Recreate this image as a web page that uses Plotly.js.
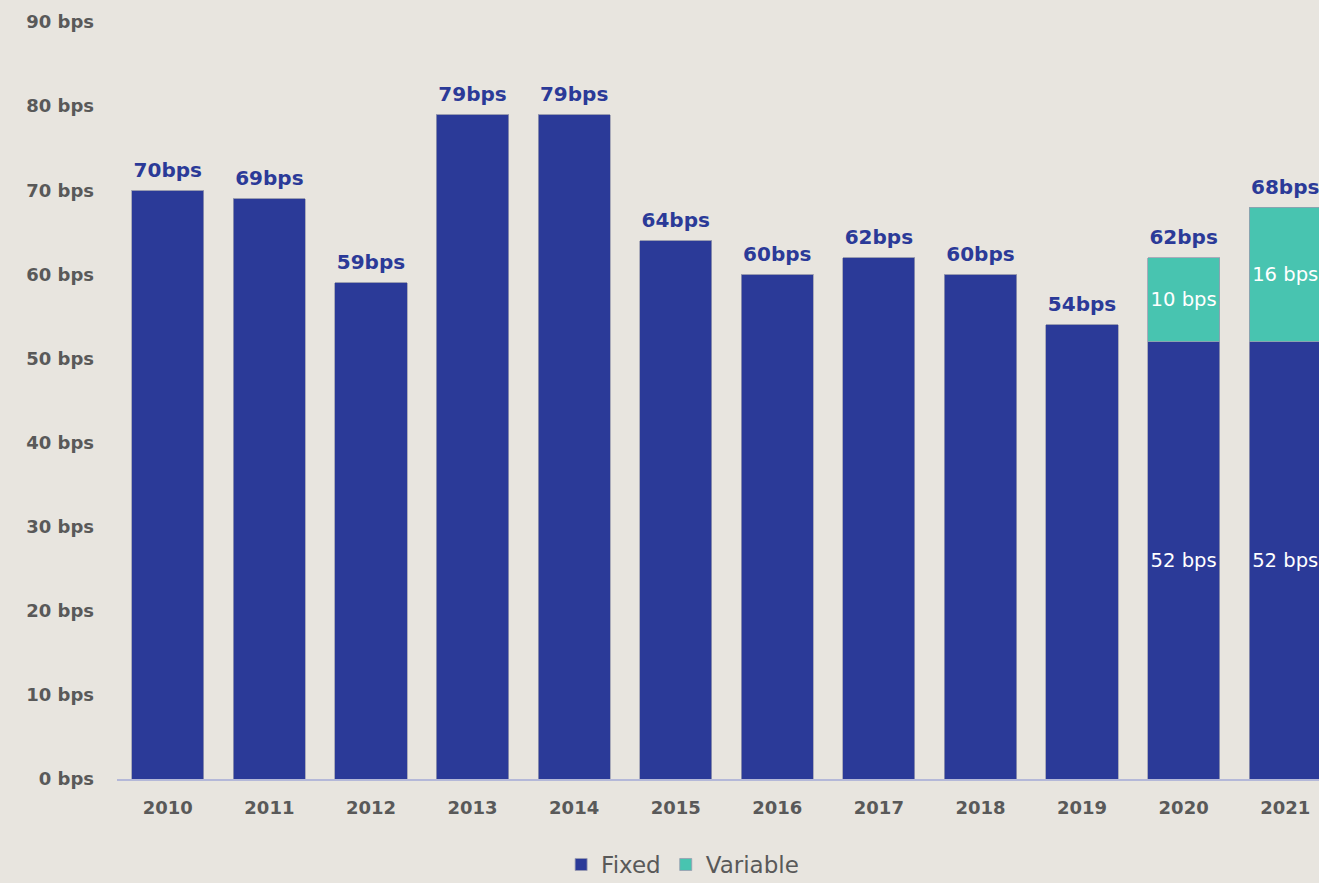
<!DOCTYPE html>
<html>
<head>
<meta charset="utf-8">
<script src="https://cdn.plot.ly/plotly-3.0.1.min.js"></script>
<style>
html,body{margin:0;padding:0;overflow:hidden;background:#E8E5DF;}
#chart{width:1340px;height:883px;}
</style>
</head>
<body>
<div id="chart"></div>
<script>
const years = ["2010","2011","2012","2013","2014","2015","2016","2017","2018","2019","2020","2021"];
const fixed = [70,69,59,79,79,64,60,62,60,54,52,52];
const variable = [0,0,0,0,0,0,0,0,0,0,10,16];
const totalLabels = ["70bps","69bps","59bps","79bps","79bps","64bps","60bps","62bps","60bps","54bps","62bps","68bps"];
const fixedLabels = ["","","","","","","","","","","52 bps","52 bps"];
const variableLabels = ["","","","","","","","","","","10 bps","16 bps"];
const yTicks = [0,10,20,30,40,50,60,70,80,90];

const navy = "#2B3A98", teal = "#48C4B0", grey = "#595959";
const totals = fixed.map((v,i)=>v+variable[i]);

const traces = [
  {type:"bar", name:"Fixed", x:years, y:fixed, marker:{color:navy, line:{color:"#9a9cb0", width:0.8}},
   text:fixedLabels, textposition:"inside", insidetextanchor:"middle", textangle:0,
   textfont:{color:"#ffffff", size:20, family:"DejaVu Sans"}, hoverinfo:"none"},
  {type:"bar", name:"Variable", x:years, y:variable, marker:{color:teal, line:{color:"#9a9cb0", width:0.8}},
   text:variableLabels, textposition:"inside", insidetextanchor:"middle", textangle:0,
   textfont:{color:"#ffffff", size:20, family:"DejaVu Sans"}, hoverinfo:"none"},
  {type:"scatter", mode:"markers+text", x:years, y:totals, text:totalLabels, textposition:"top center",
   marker:{size:12, color:"rgba(0,0,0,0)"},
   textfont:{color:navy, size:20, family:"DejaVu Sans", weight:"bold"}, showlegend:false, hoverinfo:"none", cliponaxis:false}
];

const layout = {
  width:1340, height:883,
  margin:{l:117, r:4, t:22, b:104, autoexpand:false},
  paper_bgcolor:"#E8E5DF", plot_bgcolor:"#E8E5DF",
  barmode:"stack", bargap:0.29,
  font:{family:"DejaVu Sans", color:grey},
  xaxis:{type:"category", showgrid:false, zeroline:false, showline:true, linecolor:"#B4B8D8", linewidth:2,
    ticks:"", tickfont:{size:18, color:grey, family:"DejaVu Sans", weight:"bold"}, ticklabelstandoff:11,
    range:[-0.5,11.5], fixedrange:true, automargin:false},
  yaxis:{range:[0,90], tickvals:yTicks, ticktext:yTicks.map(v=>v+" bps"), showgrid:false, zeroline:false,
    showline:false, ticks:"", tickfont:{size:18, color:grey, family:"DejaVu Sans", weight:"bold"}, ticklabelstandoff:22, fixedrange:true, automargin:false},
  legend:{orientation:"h", x:0.464, xanchor:"center", y:-0.113, yanchor:"middle",
    font:{size:23, color:grey, family:"DejaVu Sans"}, itemwidth:30, traceorder:"normal"},
  showlegend:true
};

Plotly.newPlot("chart", traces, layout, {displayModeBar:false, staticPlot:true});
</script>
</body>
</html>
